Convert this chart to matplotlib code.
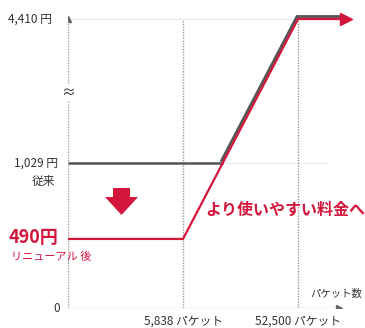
import numpy as np
import matplotlib
matplotlib.use("Agg")
import matplotlib.pyplot as plt
import matplotlib.transforms as mtransforms
from matplotlib.patches import FancyArrow

plt.rcParams['font.family'] = ['Noto Sans CJK JP', 'DejaVu Sans']

# data
packet_marks = [5838, 52500]
new_x = [0, 5838, 52500, 71960]
new_y = [490, 490, 4410, 4410]
old_flat_x = [0, 21900]
old_flat_y = [1029, 1029]
old_rise_x = [21900, 52500, 70500]
old_rise_y = [1029, 4410, 4410]
x_tick_labels = ["5,838 パケット", "52,500 パケット"]

RED = "#d4163c"
GRAY = "#555555"
DOT = "#9a9a9a"
TXT = "#333333"


def piecewise(nodes, vals):
    nodes = np.asarray(nodes, float)
    vals = np.asarray(vals, float)

    def f(v):
        v = np.asarray(v, float)
        out = np.interp(v, nodes, vals)
        s_hi = (vals[-1] - vals[-2]) / (nodes[-1] - nodes[-2])
        s_lo = (vals[1] - vals[0]) / (nodes[1] - nodes[0])
        out = np.where(v > nodes[-1], vals[-1] + (v - nodes[-1]) * s_hi, out)
        out = np.where(v < nodes[0], vals[0] + (v - nodes[0]) * s_lo, out)
        return out
    return f


# broken axes: both axes squeeze their upper range
x_fwd = piecewise([0, 5838, 52500], [0, 1, 2])
x_inv = piecewise([0, 1, 2], [0, 5838, 52500])
y_fwd = piecewise([0, 1029, 4410], [0, 145, 289])
y_inv = piecewise([0, 145, 289], [0, 1029, 4410])

fig = plt.figure(figsize=(3.65, 3.28), dpi=100)
ax = fig.add_axes([68 / 365, 20 / 328, 292 / 365, 298 / 328])
ax.set_xscale('function', functions=(x_fwd, x_inv))
ax.set_yscale('function', functions=(y_fwd, y_inv))
ax.set_xlim(0, float(x_inv(2.539)))
ax.set_ylim(0, float(y_inv(298)))
ax.axis('off')

x_max = float(x_inv(2.357))

# light guide lines
ax.plot([0, 52500], [4410, 4410], color="#ececec", lw=1, zorder=1)
ax.plot([0, float(x_inv(2.26))], [1029, 1029], color="#eeeeee", lw=1, zorder=1)

# dotted axes and guides
dots = (0, (1, 1))
ax.plot([0, 0], [0, 4410], color=DOT, lw=1, ls=dots, zorder=2)
ax.plot([0], [4410], marker='^', color="#666666", ms=5, zorder=3)
ax.plot([0, x_max], [0, 0], color=DOT, lw=1, ls=dots, zorder=2)
ax.plot([x_max], [0], marker='>', color="#666666", ms=5, zorder=3)
for px in packet_marks:
    ax.plot([px, px], [0, 4410], color=DOT, lw=1, ls=dots, zorder=2)

# old plan (gray), new plan (red)
shift = mtransforms.offset_copy(ax.transData, fig=fig, x=-1, y=2.5, units='dots')
ax.plot(old_flat_x, old_flat_y, color=GRAY, lw=1.8, zorder=4, solid_capstyle='butt')
ax.plot(old_rise_x, old_rise_y, color=GRAY, lw=2.0, zorder=4, transform=shift,
        solid_joinstyle='miter')
ax.plot(new_x, new_y, color=RED, lw=1.6, zorder=5, solid_joinstyle='miter')
ax.plot([new_x[-1]], [new_y[-1]], marker='>', color=RED, ms=9, zorder=6)

# y labels
def ylab(val, text, dx, dy=0, **kw):
    ax.annotate(text, xy=(0, val), xytext=(dx, dy), textcoords='offset pixels',
                ha=kw.pop('ha', 'right'), va='center', **kw)

ylab(4410, "4,410 円", -16, fontsize=8.5, color=TXT)
ylab(1029, "1,029 円", -10, fontsize=8.5, color=TXT)
ylab(1029, "従来", -13, -18, fontsize=8.5, color=TXT)
ylab(490, "490円", -10, 1, fontsize=13, fontweight='bold', color=RED)
ylab(490, "リニューアル 後", -57, -18, fontsize=8, color=RED, ha='left')
ylab(0, "0", -8, fontsize=8.5, color=TXT)
ax.text(0, 0.721, "≈", transform=ax.transAxes, ha='center', va='center',
        fontsize=10, color=TXT, zorder=7,
        bbox=dict(boxstyle='square,pad=0.05', fc='white', ec='none'))

# x labels
for px, lab in zip(packet_marks, x_tick_labels):
    ax.annotate(lab, xy=(px, 0), xytext=(0, -13), textcoords='offset pixels',
                ha='center', va='center', fontsize=8.5, color=TXT)
ax.annotate("パケット数", xy=(1, 0), xycoords='axes fraction', xytext=(2, 14),
            textcoords='offset pixels', ha='right', va='center', fontsize=7.5, color=TXT)

# message and down arrow
fig.text(205 / 365, 1 - 210 / 328, "より使いやすい料金へ", ha='left', va='center',
         fontsize=11.5, fontweight='bold', color=RED)
fig.patches.append(FancyArrow(1.215, 1.40, 0, -0.27, width=0.17, head_width=0.33,
                              head_length=0.18, length_includes_head=True,
                              color=RED, lw=0, transform=fig.dpi_scale_trans))

fig.savefig("out.png", dpi=100)
